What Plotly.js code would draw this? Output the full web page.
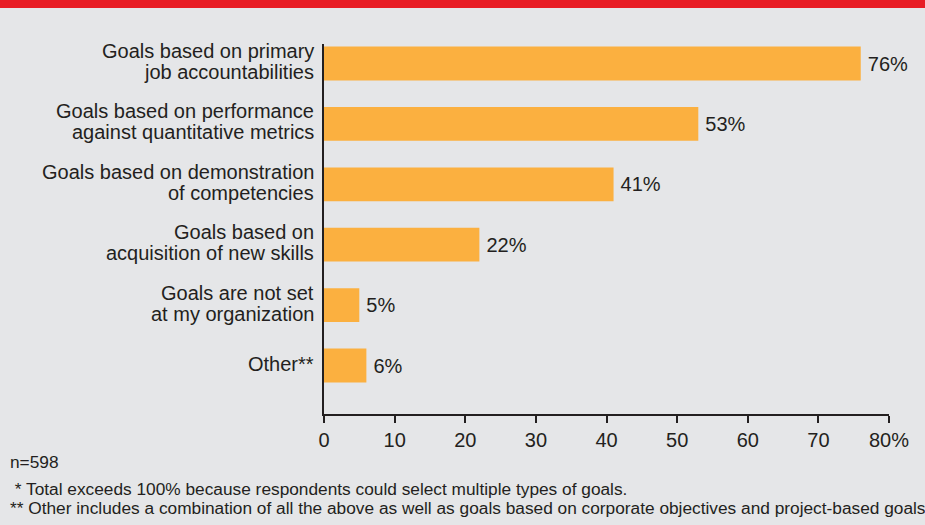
<!DOCTYPE html>
<html><head><meta charset="utf-8">
<script src="https://cdn.plot.ly/plotly-3.0.1.min.js"></script>
<style>html,body{margin:0;padding:0;background:#e5e6e8;}</style>
</head><body><div id="chart" style="width:925px;height:525px;"></div>
<script>
const categories = [
  "Goals based on primary<br>job accountabilities",
  "Goals based on performance<br>against quantitative metrics",
  "Goals based on demonstration<br>of competencies",
  "Goals based on<br>acquisition of new skills",
  "Goals are not set<br>at my organization",
  "Other**"
];
const values = [76, 53, 41, 22, 5, 6];
const tickVals = [0, 10, 20, 30, 40, 50, 60, 70, 80];
const tickText = ["0", "10", "20", "30", "40", "50", "60", "70", "80%"];
const footnotes = [
  "n=598",
  " * Total exceeds 100% because respondents could select multiple types of goals.",
  "** Other includes a combination of all the above as well as goals based on corporate objectives and project-based goals"
];

const W = 925, H = 525;
const m = {l: 324, r: 36, t: 44, b: 111};
const pw = W - m.l - m.r, ph = H - m.t - m.b;
const font = "Liberation Sans, Arial, sans-serif";
const dark = "#231f20";
const idx = categories.map((c, i) => i);

const trace = {
  type: "bar", orientation: "h",
  y: idx, x: values,
  width: 0.56,
  marker: {color: "#fbb040", line: {width: 0}},
  text: values.map(v => "&#8201;" + v + "%"), textposition: "outside",
  textfont: {family: font, size: 20, color: dark},
  cliponaxis: false, hoverinfo: "skip"
};

const ann = [];
// category labels, one annotation per line for tighter line spacing
categories.forEach((c, i) => {
  const lines = c.split("<br>");
  const n = lines.length;
  lines.forEach((ln, k) => {
    ann.push({
      text: ln, xref: "paper", yref: "y", x: 0, y: i,
      xanchor: "right", yanchor: "middle", xshift: -8,
      yshift: ((n - 1) / 2 - k) * 21 + 2,
      showarrow: false,
      font: {family: font, size: 20, color: dark}
    });
  });
});

[
  {text: footnotes[0], x: 8, y: H - 462},
  {text: footnotes[1], x: 8, y: H - 489},
  {text: footnotes[2], x: 8, y: H - 508}
].forEach(a => ann.push({
  text: a.text, xref: "paper", yref: "paper",
  x: (a.x - m.l) / pw, y: (a.y - m.b) / ph,
  xanchor: "left", yanchor: "middle", showarrow: false,
  font: {family: font, size: 17.3, color: dark}
}));

const layout = {
  width: W, height: H, margin: m,
  paper_bgcolor: "#e5e6e8", plot_bgcolor: "#e5e6e8",
  showlegend: false,
  font: {family: font, color: dark},
  xaxis: {
    range: [0, 80], tickvals: tickVals, ticktext: tickText,
    ticks: "outside", ticklen: 7, tickwidth: 2, tickcolor: dark,
    showline: true, linewidth: 2, linecolor: dark,
    showgrid: false, zeroline: false,
    tickfont: {family: font, size: 20, color: dark}
  },
  yaxis: {
    range: [5.803, -0.323],
    tickvals: idx, ticktext: categories.map(() => ""),
    ticks: "", showticklabels: false,
    showline: true, linewidth: 2, linecolor: dark,
    showgrid: false, zeroline: false
  },
  shapes: [{
    type: "rect", xref: "paper", yref: "paper",
    x0: -m.l / pw - 0.01, x1: 1 + m.r / pw + 0.01,
    y0: 1 + (m.t - 8) / ph, y1: 1 + (m.t + 2) / ph,
    fillcolor: "#e81c24", line: {width: 0}
  }],
  annotations: ann
};

Plotly.newPlot("chart", [trace], layout, {displayModeBar: false, staticPlot: true});
</script></body></html>
